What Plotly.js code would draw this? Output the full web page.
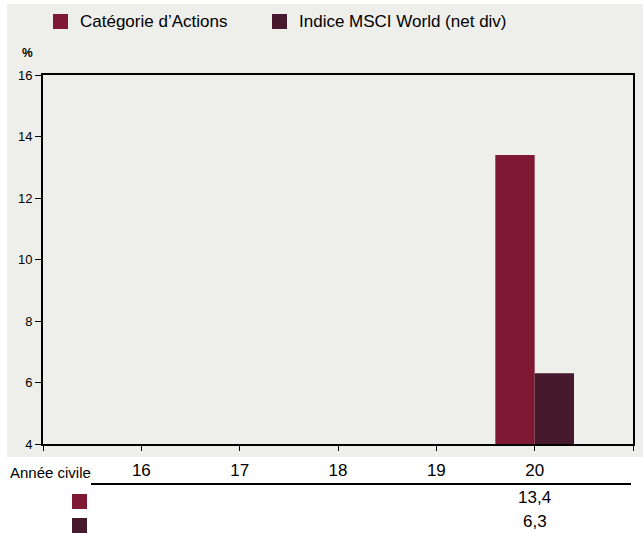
<!DOCTYPE html>
<html>
<head>
<meta charset="utf-8">
<script src="https://cdn.plot.ly/plotly-3.0.1.min.js"></script>
<style>html,body{margin:0;padding:0;background:#fff;}#chart{width:643px;height:533px;}</style>
</head>
<body>
<div id="chart"></div>
<script>
// Data
var years = [16, 17, 18, 19, 20];
var yearLabels = ['16', '17', '18', '19', '20'];
var categorieActions = [null, null, null, null, 13.4];
var indiceMSCI = [null, null, null, null, 6.3];
var seriesNames = ['Catégorie d\u2019Actions', 'Indice MSCI World (net div)'];
var seriesColors = ['#7e1833', '#46192c'];
var yTicks = [4, 6, 8, 10, 12, 14, 16];

var FONT = '"Liberation Sans Narrow", "Arial Narrow", "Liberation Sans", Arial, sans-serif';
var L = 43, R = 633, T = 75, B = 444;
function px(x) { return (x - L) / (R - L); }
function py(y) { return (B - y) / (B - T); }

var seriesData = [categorieActions, indiceMSCI];
var traces = seriesData.map(function (vals, i) {
  return {
    type: 'bar', x: years, y: vals, name: seriesNames[i],
    marker: {color: seriesColors[i], line: {width: 0}},
    showlegend: false, hoverinfo: 'x+y'
  };
});

var shapes = [
  {type: 'rect', xref: 'paper', yref: 'paper', x0: px(7), x1: px(643), y0: py(457), y1: py(4),
   fillcolor: '#eeeeea', line: {width: 0}, layer: 'below'},
  {type: 'line', xref: 'paper', yref: 'paper', x0: px(91), x1: px(631), y0: py(484), y1: py(484),
   line: {color: '#000', width: 2}}
];
var annotations = [
  {xref: 'paper', yref: 'paper', x: px(20), y: py(53), text: '<b>%</b>', showarrow: false,
   xanchor: 'left', yanchor: 'middle', font: {family: FONT, size: 12, color: '#000'}},
  {xref: 'paper', yref: 'paper', x: px(8), y: py(472), text: 'Année civile', showarrow: false,
   xanchor: 'left', yanchor: 'middle', font: {family: FONT, size: 15, color: '#000'}}
];

// legend (custom) and table rows
var legendSquareX = [53, 272];
var legendTextX = [78, 297];
var rowY = [497, 521];
seriesNames.forEach(function (name, i) {
  shapes.push({type: 'rect', xref: 'paper', yref: 'paper',
    x0: px(legendSquareX[i]), x1: px(legendSquareX[i] + 15), y0: py(29), y1: py(14),
    fillcolor: seriesColors[i], line: {width: 0}});
  annotations.push({xref: 'paper', yref: 'paper', x: px(legendTextX[i]), y: py(21),
    text: name, showarrow: false, xanchor: 'left', yanchor: 'middle',
    font: {family: FONT, size: 17, color: '#000'}});
  shapes.push({type: 'rect', xref: 'paper', yref: 'paper',
    x0: px(72), x1: px(87), y0: py(rowY[i] + 12), y1: py(rowY[i] - 3),
    fillcolor: seriesColors[i], line: {width: 0}});
  seriesData[i].forEach(function (v, j) {
    if (v === null) return;
    annotations.push({xref: 'x', yref: 'paper', x: years[j], y: py(rowY[i]),
      text: v.toFixed(1).replace('.', ','), showarrow: false, xanchor: 'center', yanchor: 'middle',
      font: {family: FONT, size: 17, color: '#000'}});
  });
});

var layout = {
  width: 643, height: 533,
  margin: {l: L, r: 643 - R, t: T, b: 533 - B, pad: 0},
  paper_bgcolor: '#ffffff', plot_bgcolor: '#eeeeea',
  barmode: 'group', bargap: 0.2, bargroupgap: 0,
  font: {family: FONT, color: '#000'},
  xaxis: {
    type: 'linear', range: [15, 21],
    tickvals: [15].concat(years).concat([21]), ticktext: [''].concat(yearLabels).concat(['']),
    ticks: 'outside', ticklen: 5, tickwidth: 1, tickcolor: '#000',
    showline: true, linecolor: '#000', linewidth: 2, mirror: true,
    showgrid: false, zeroline: false, ticklabelstandoff: 5,
    tickfont: {family: FONT, size: 17, color: '#000'}, fixedrange: true
  },
  yaxis: {
    range: [4, 16], tickvals: yTicks,
    ticks: 'outside', ticklen: 6, tickwidth: 1, tickcolor: '#000',
    showline: true, linecolor: '#000', linewidth: 2, mirror: true,
    showgrid: false, zeroline: false,
    tickfont: {family: FONT, size: 13, color: '#000'}, fixedrange: true
  },
  shapes: shapes, annotations: annotations, showlegend: false
};
Plotly.newPlot('chart', traces, layout, {displayModeBar: false, staticPlot: true});
</script>
</body>
</html>
